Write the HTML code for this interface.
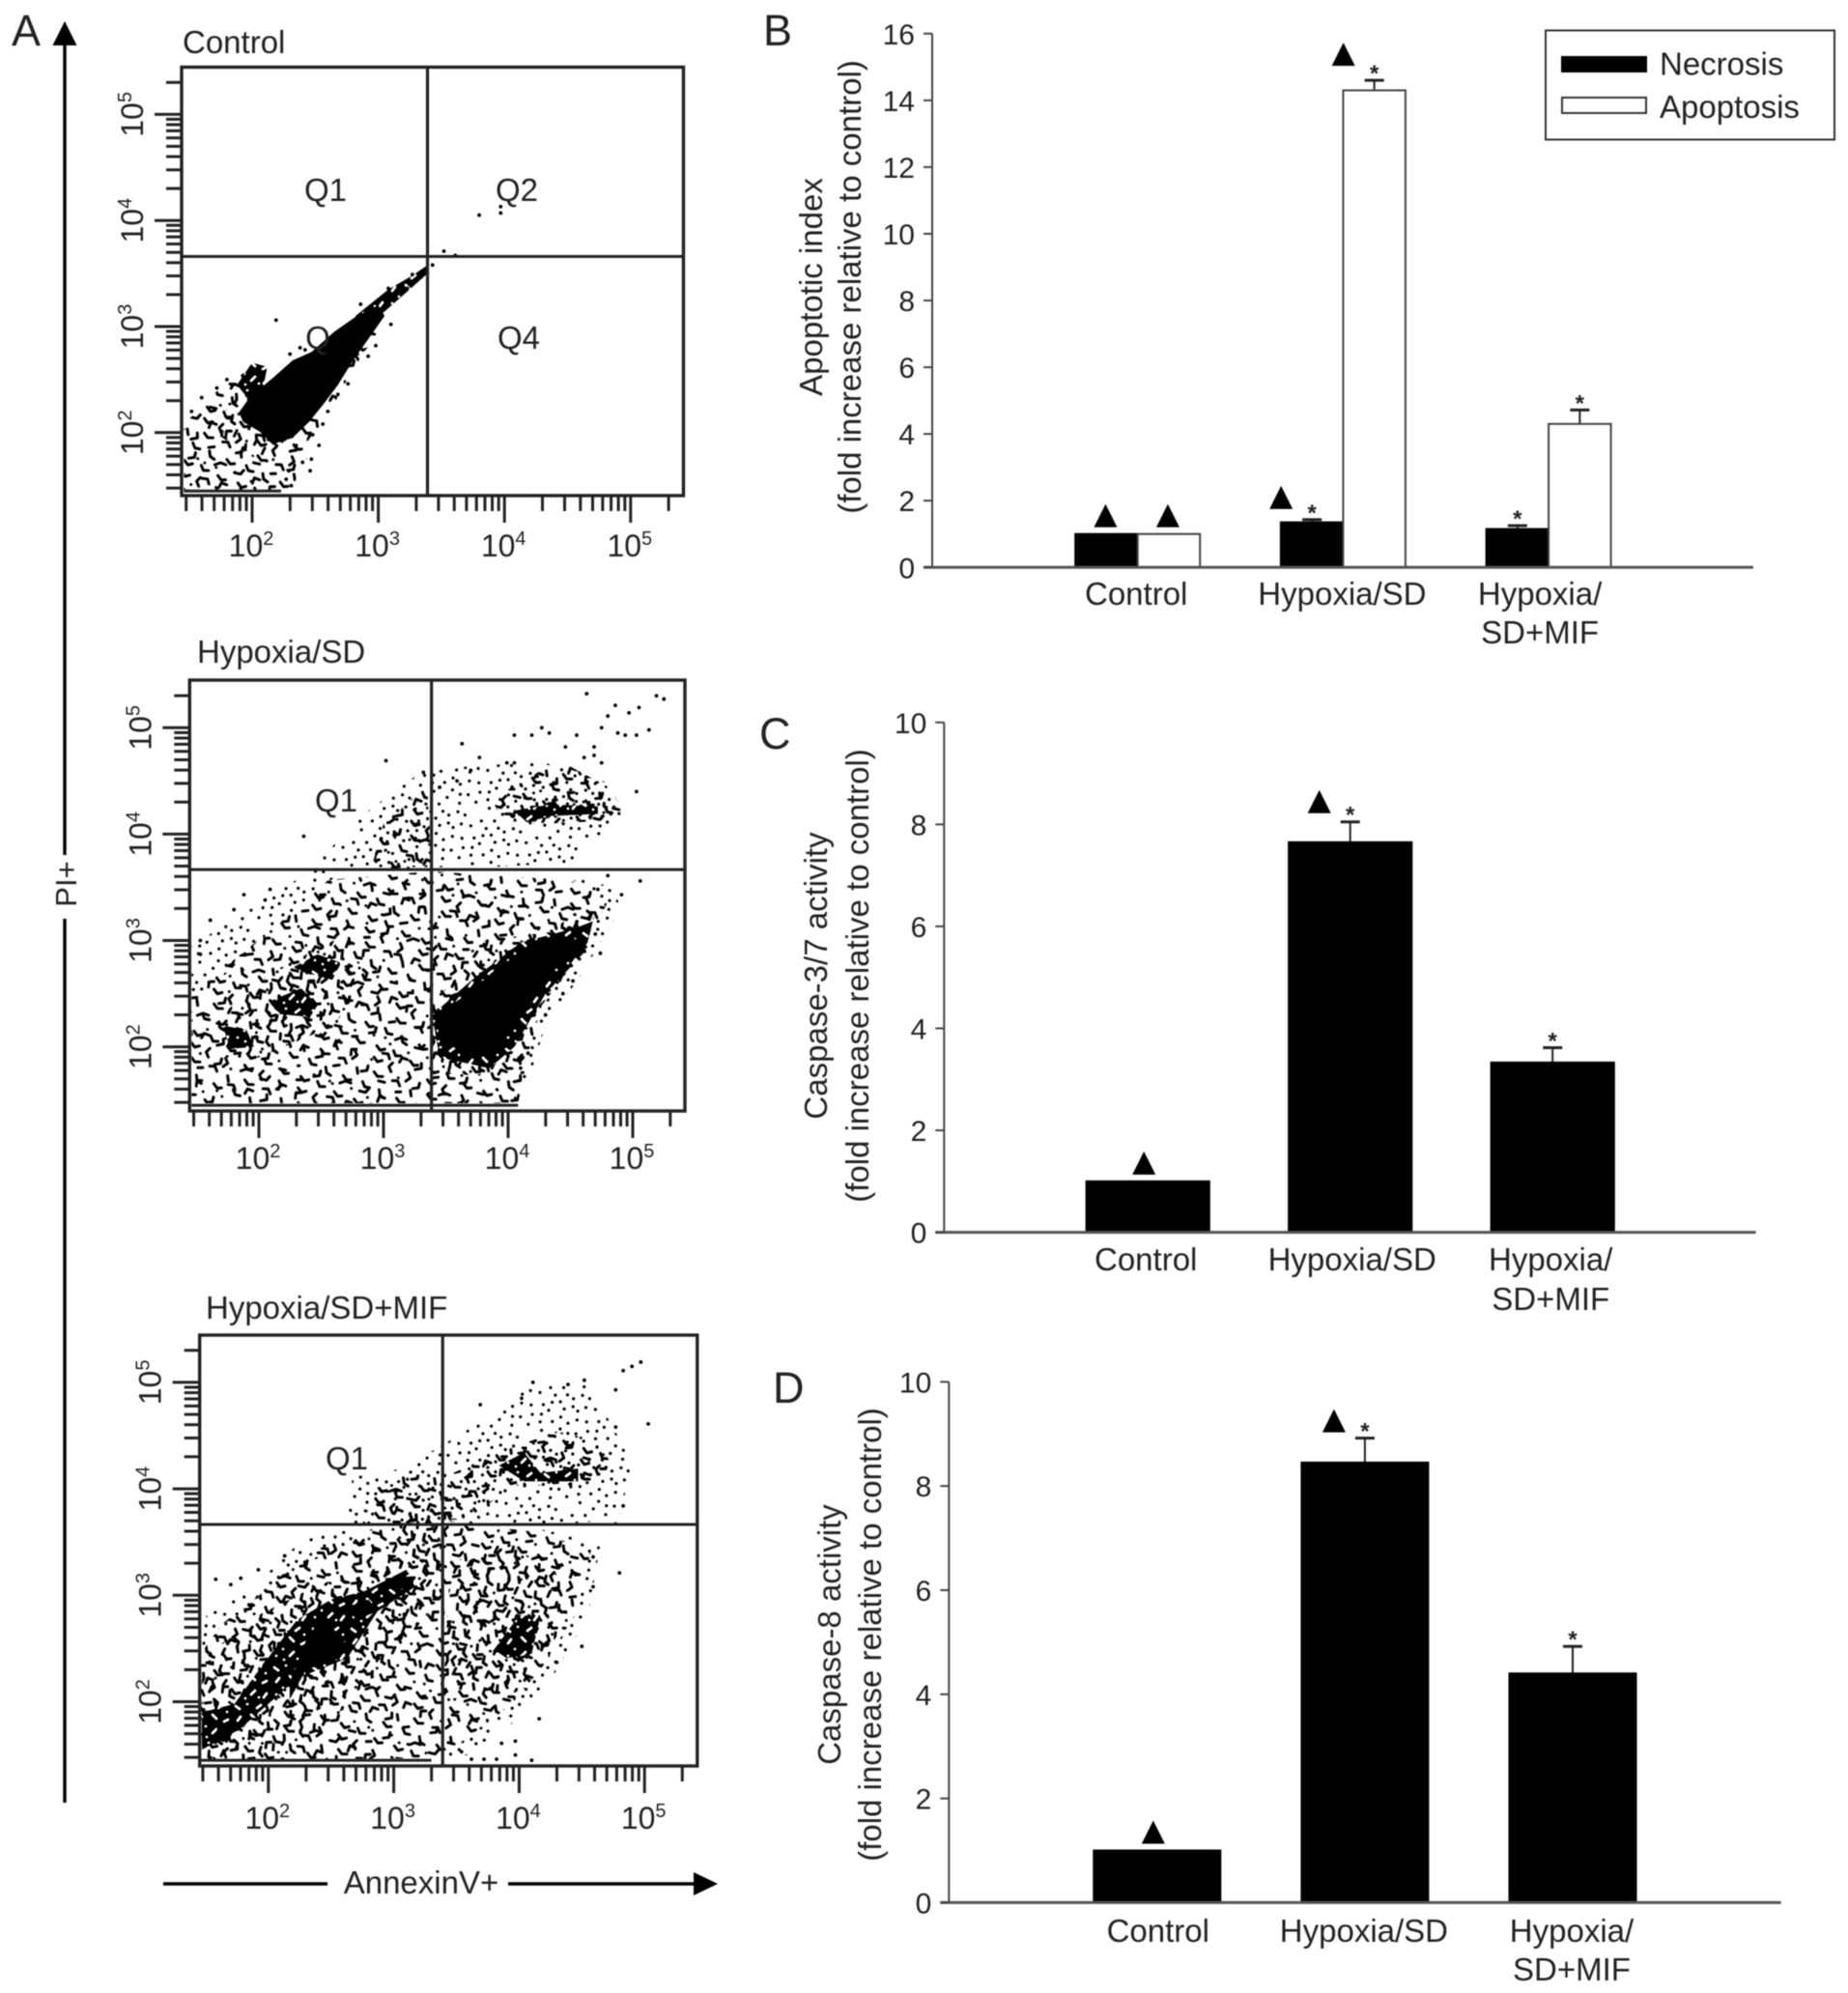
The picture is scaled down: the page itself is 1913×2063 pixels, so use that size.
<!DOCTYPE html>
<html lang="en">
<head>
<meta charset="utf-8">
<title>Flow cytometry and apoptosis bar charts</title>
<style>
html,body{margin:0;padding:0;background:#fff;}
svg{display:block;filter:blur(0.6px);}
text{font-family:"Liberation Sans",sans-serif;fill:#222;}
</style>
</head>
<body>
<svg id="figure" xmlns="http://www.w3.org/2000/svg" width="1913" height="2063" viewBox="0 0 1913 2063">
<defs>
<pattern id="stipLight" patternUnits="userSpaceOnUse" width="60" height="60" patternTransform="rotate(17)">
<path d="M5 7h0M12 13h0M18 3h0M24 9h0M31 11h0M39 5h0M47 6h0M56 15h0M11 21h0M19 18h0M25 24h0M33 19h0M39 22h0M46 16h0M51 30h0M4 36h0M3 26h0M10 30h0M17 40h0M24 33h0M33 37h0M41 31h0M44 45h0M9 52h0M5 44h0M24 54h0M27 45h0M38 56h0M36 47h0M54 50h0M55 39h0" stroke="#000" stroke-width="3.2" stroke-linecap="round" fill="none"/>
</pattern>
<pattern id="stipMedA" patternUnits="userSpaceOnUse" width="60" height="60" patternTransform="rotate(23)">
<path d="M2 4l5 3 4-3M20 2l4 4 5-2M40 5l5 3 4-2M4 16l5 3 4-3M24 14l-2 5 4 4M43 17l4 4-3 5M10 30l5 3 5-2M31 31l5-2 4 4M52 33l3 5M3 44l4 4 5-1M22 45l3 5 5 1M42 46l5 3 4-2M14 57h0M35 58h0M55 55h0" stroke="#000" stroke-width="3" stroke-linecap="round" stroke-linejoin="round" fill="none"/>
</pattern>
<pattern id="stipMedB" patternUnits="userSpaceOnUse" width="73" height="73" patternTransform="rotate(-38)">
<path d="M6 8l4 4-2 5M25 5l6 2 3 5M50 9l5 3 4-3M66 6h0M14 26l5-2 3 5M36 24l4 5 5-1M58 28l4 5M3 38h0M22 42l6 3 3-4M44 44l5-3 3 5M65 48l4 3M8 56l5 3 4-3M31 60l5 3M52 62l4-4 4 3M18 70h0" stroke="#000" stroke-width="3" stroke-linecap="round" stroke-linejoin="round" fill="none"/>
</pattern>
<pattern id="stipMid" patternUnits="userSpaceOnUse" width="47" height="47" patternTransform="rotate(64)">
<path d="M4 6l5 2 3 4M20 4l4 5M33 8l5-2 4 4M8 20l5 3M22 19l5 4 4-2M38 22l4 5M5 33l4 4 5-1M21 35l3 5M32 36l5 3 4-3M14 44h0M43 42h0" stroke="#000" stroke-width="3" stroke-linecap="round" stroke-linejoin="round" fill="none"/>
</pattern>
<pattern id="stipHeavy" patternUnits="userSpaceOnUse" width="40" height="40">
<rect width="40" height="40" fill="#000"/>
<path d="M4 6l4 3M16 4h0M26 8l4-3M35 12h0M9 17l-3 4M20 15l4 4M32 22l4-2M13 27h0M24 30l-4 4M36 33l-3 4M6 34h0M14 38h0M28 37h0" stroke="#fff" stroke-width="2.8" stroke-linecap="round" fill="none"/>
</pattern>
</defs>

<!-- Panel letters -->
<text x="12" y="47" font-size="45">A</text>
<text x="790" y="47" font-size="45">B</text>
<text x="786" y="775" font-size="45">C</text>
<text x="800" y="1452" font-size="45">D</text>

<!-- Shared flow axes -->
<g>
<line x1="67" y1="40" x2="67" y2="885" stroke="#000" stroke-width="3.4"/>
<line x1="67" y1="951" x2="67" y2="1866" stroke="#000" stroke-width="3.4"/>
<polygon points="67,22 54.5,47 79.5,47" fill="#000"/>
</g>
<text transform="translate(79,915) rotate(-90)" text-anchor="middle" font-size="31">PI+</text>
<g>
<line x1="169" y1="1950" x2="339" y2="1950" stroke="#000" stroke-width="3.4"/>
<line x1="526" y1="1950" x2="722" y2="1950" stroke="#000" stroke-width="3.4"/>
<polygon points="743,1950 718,1938 718,1962" fill="#000"/>
</g>
<text x="436" y="1960" text-anchor="middle" font-size="33">AnnexinV+</text>

<!-- Flow panel titles -->
<text x="189" y="55" font-size="33">Control</text>
<text x="204" y="686" font-size="33">Hypoxia/SD</text>
<text x="213" y="1365" font-size="33">Hypoxia/SD+MIF</text>

<g id="flow-layer"></g>

<text x="337" y="208" text-anchor="middle" font-size="33">Q1</text>
<text x="535" y="208" text-anchor="middle" font-size="33">Q2</text>
<text x="329" y="361" text-anchor="middle" font-size="33">Q</text>
<text x="537" y="361" text-anchor="middle" font-size="33">Q4</text>
<text x="348" y="840" text-anchor="middle" font-size="33">Q1</text>
<text x="359" y="1521" text-anchor="middle" font-size="33">Q1</text>

<!-- Bar charts -->
<g id="bar-layer"></g>

<text transform="translate(851,297) rotate(-90)" text-anchor="middle" font-size="33">Apoptotic index</text>
<text transform="translate(891,297) rotate(-90)" text-anchor="middle" font-size="33">(fold increase relative to control)</text>
<text transform="translate(856,1010) rotate(-90)" text-anchor="middle" font-size="33">Caspase-3/7 activity</text>
<text transform="translate(899,1010) rotate(-90)" text-anchor="middle" font-size="33">(fold increase relative to control)</text>
<text transform="translate(870,1692) rotate(-90)" text-anchor="middle" font-size="33">Caspase-8 activity</text>
<text transform="translate(912,1692) rotate(-90)" text-anchor="middle" font-size="33">(fold increase relative to control)</text>

<!-- Legend -->
<g>
<rect x="1600" y="31.5" width="299" height="113" fill="#fff" stroke="#333" stroke-width="2"/>
<rect x="1616" y="58" width="89" height="17" fill="#000"/>
<rect x="1617" y="101" width="87" height="16" fill="#fff" stroke="#333" stroke-width="2"/>
<text x="1718" y="77.5" font-size="33">Necrosis</text>
<text x="1718" y="122" font-size="33">Apoptosis</text>
</g>

<script>
/* ---------- Bar chart data ---------- */
const barYTicksB = [0, 2, 4, 6, 8, 10, 12, 14, 16];
const barYTicksCD = [0, 2, 4, 6, 8, 10];
const categories = [['Control'], ['Hypoxia/SD'], ['Hypoxia/', 'SD+MIF']];

const bNecrosis = [1, 1.35, 1.15];
const bNecrosisErrTop = [1, 1.43, 1.25];
const bNecrosisTriangle = [true, true, false];
const bNecrosisStar = [false, true, true];
const bApoptosis = [1, 14.3, 4.3];
const bApoptosisErrTop = [1, 14.6, 4.72];
const bApoptosisTriangle = [true, true, false];
const bApoptosisStar = [false, true, true];

const cValues = [1, 7.65, 3.33];
const cErrTop = [1, 8.05, 3.62];
const cTriangle = [true, true, false];
const cStar = [false, true, true];

const dValues = [1, 8.45, 4.4];
const dErrTop = [1, 8.92, 4.92];
const dTriangle = [true, true, false];
const dStar = [false, true, true];

/* ---------- Flow cytometry data (all values in log10 fluorescence) ---------- */
const decadeLabels = [2, 3, 4, 5];
const tickDecades = [1, 2, 3, 4, 5];
const tickMantissas = [1, 2, 3, 4, 5, 6, 7, 8, 9];

const controlGate = [3.39, 3.66];
const controlPileUp = [1.46, 2.23, 1.45];
const controlPoints = [[3.80,4.05],[3.97,4.13],[3.97,4.07],[3.52,3.71],[3.61,3.67],[2.19,3.06],[3.38,3.54],[3.43,3.58],[3.34,3.51],[3.27,3.49],[3.23,3.36],[3.08,3.36],[2.86,3.21],[2.38,2.80],[2.53,1.88],[2.47,1.75],[2.46,1.64],[2.29,1.64],[2.27,1.56],[1.60,2.33],[1.52,2.20],[1.80,2.50],[1.72,2.42],[2.40,1.72],[2.31,1.50],[2.76,2.46],[2.68,2.36],[2.60,2.20],[2.56,2.08],[2.48,1.98],[2.92,2.72],[2.98,2.82],[3.10,3.02],[2.42,2.78],[2.30,2.74]];
const controlLight = [];
const controlMedium = [[[1.46,2.08],[1.71,2.38],[1.93,2.56],[2.08,2.51],[2.01,2.10],[2.23,1.90],[2.49,1.88],[2.30,1.45],[1.46,1.45]],[[3.0,3.04],[3.05,3.0],[2.9,2.78],[2.78,2.56],[2.68,2.34],[2.56,2.1],[2.44,1.92],[2.32,1.85],[2.2,1.82],[2.2,1.92],[2.44,2.13],[2.62,2.47],[2.85,2.86]]];
const controlMid = [[[1.7,2.0],[1.9,2.45],[2.1,2.45],[2.0,2.05],[2.25,1.85],[2.1,1.7]]];
const controlHeavy = [[[1.88,2.45],[2.0,2.66],[2.12,2.62],[2.05,2.2]],[[2.82,3.10],[3.08,3.35],[3.27,3.48],[3.38,3.57],[3.40,3.51],[3.23,3.33],[3.01,3.10],[2.86,2.92]]];
const controlSolid = [[[1.895,2.19],[1.985,2.34],[2.16,2.51],[2.32,2.68],[2.47,2.76],[2.65,2.95],[2.83,3.1],[3.0,3.2],[3.05,3.1],[2.92,2.88],[2.8,2.68],[2.68,2.45],[2.56,2.26],[2.45,2.10],[2.32,1.95],[2.16,1.89],[2.06,2.01],[1.93,2.10]]];

const hypoxiaGate = [3.385, 3.666];
const hypoxiaPileUp = [1.46, 4.08, 1.45];
const hypoxiaPoints = [[4.63,5.32],[4.86,5.21],[5.19,5.30],[5.25,5.27],[5.05,5.19],[4.97,5.14],[4.80,5.11],[4.75,5.0],[4.27,5.0],[4.33,4.95],[4.05,4.93],[4.19,4.93],[4.55,4.93],[4.88,4.95],[4.94,4.93],[5.03,4.93],[5.13,4.98],[3.63,4.85],[4.46,4.82],[4.69,4.82],[4.69,4.74],[3.77,4.72],[4.61,4.72],[4.75,4.67],[3.02,4.69],[3.99,4.67],[4.05,4.67],[5.03,4.40],[2.36,3.98],[5.06,3.56],[4.91,3.43],[4.80,3.61],[4.72,3.48],[1.61,3.19],[1.53,3.0],[1.53,2.87],[1.88,3.43],[1.80,3.29],[2.09,3.48],[2.05,3.38],[3.32,4.58],[3.70,4.60],[3.59,4.50],[3.45,4.44],[4.62,2.94],[4.70,3.06],[4.74,2.88],[4.52,2.62],[4.44,2.50],[4.30,2.30],[4.16,1.94],[4.10,1.80]];
const hypoxiaLight = [[[2.44,3.69],[2.78,4.13],[3.04,4.36],[3.32,4.6],[3.73,4.64],[4.27,4.68],[4.81,4.48],[4.94,4.24],[4.87,4.09],[4.49,3.73],[3.86,3.69]],[[1.46,2.4],[1.46,2.95],[1.8,3.2],[2.1,3.42],[2.45,3.68],[2.7,3.68],[2.4,3.4],[2.1,3.1],[1.75,2.7]],[[4.49,3.6],[4.85,3.5],[4.9,3.3],[4.6,2.7],[4.3,2.2],[4.14,1.6],[4.05,1.6],[4.2,2.2],[4.45,2.75],[4.75,3.35]]];
const hypoxiaMedium = [[[1.46,1.47],[1.46,2.47],[1.77,2.79],[2.18,3.18],[2.56,3.57],[3.39,3.65],[3.86,3.61],[4.49,3.57],[4.81,3.38],[4.53,2.79],[4.27,2.39],[4.16,1.94],[4.08,1.47]],[[3.89,4.28],[4.02,4.44],[4.27,4.6],[4.49,4.64],[4.81,4.44],[4.92,4.24],[4.87,4.13],[4.18,4.09],[3.92,4.2]],[[2.9,3.67],[3.0,4.1],[3.35,4.45],[3.39,3.67]]];
const hypoxiaMid = [[[3.39,2.39],[3.81,3.0],[4.34,3.08],[4.62,3.34],[4.70,3.26],[4.49,2.83],[4.27,2.39],[4.05,2.0],[3.95,1.72],[3.42,1.75],[3.39,1.84]],[[1.7,2.3],[2.1,2.7],[2.6,3.0],[2.9,2.7],[2.6,2.2],[2.0,1.9],[1.7,1.9]],[[3.98,4.18],[4.3,4.34],[4.8,4.3],[4.8,4.14],[4.2,4.1]]];
const hypoxiaHeavy = [[[2.28,2.75],[2.47,2.87],[2.66,2.79],[2.59,2.63],[2.33,2.71]],[[2.09,2.43],[2.34,2.55],[2.47,2.39],[2.41,2.28],[2.15,2.31]],[[1.71,2.2],[1.90,2.16],[1.96,2.0],[1.77,1.98]],[[4.05,4.22],[4.34,4.28],[4.72,4.26],[4.72,4.19],[4.34,4.17],[4.15,4.11]],[[3.39,2.3],[3.7,2.62],[4.1,2.98],[4.55,3.12],[4.68,3.18],[4.62,2.9],[4.3,2.5],[4.05,2.0],[3.85,1.8],[3.45,1.9]]];
const hypoxiaSolid = [[[3.44,2.31],[3.70,2.52],[3.90,2.73],[4.13,2.91],[4.32,3.0],[4.52,3.03],[4.61,2.94],[4.42,2.79],[4.26,2.55],[4.13,2.34],[3.98,2.09],[3.85,1.94],[3.64,1.94],[3.44,2.09]]];

const mifGate = [3.39, 3.665];
const mifPileUp = [1.46, 3.3, 1.45];
const mifPoints = [[4.97,5.19],[4.90,5.15],[4.83,5.11],[4.52,5.02],[4.77,4.93],[4.39,4.98],[4.11,5.0],[3.69,4.79],[4.02,4.85],[5.03,4.61],[4.77,4.58],[4.80,3.21],[4.83,3.84],[4.77,3.67],[4.50,2.52],[4.30,2.37],[4.16,1.84],[3.97,1.63],[3.86,1.61],[3.54,1.53],[3.97,1.5],[4.10,1.45],[1.58,3.15],[1.70,3.10],[1.78,3.16],[1.92,3.24],[2.13,3.37],[4.59,3.08],[4.59,3.36],[3.62,1.46],[3.72,1.46],[3.82,1.46]];
const mifLight = [[[2.63,3.65],[2.67,4.11],[3.07,4.19],[3.57,4.54],[4.10,4.97],[4.54,5.01],[4.90,4.26],[4.80,3.71],[4.14,3.65]],[[1.46,2.4],[1.5,2.8],[1.9,3.1],[2.25,3.5],[2.6,3.65],[2.7,3.5],[2.3,3.3],[1.95,2.95],[1.6,2.65]],[[4.17,3.62],[4.65,3.5],[4.55,2.8],[4.25,2.2],[3.95,1.8],[3.6,1.5],[3.37,1.47],[3.9,1.95],[4.17,2.3],[4.44,2.81],[4.55,3.38]]];
const mifMedium = [[[1.46,1.45],[1.46,2.45],[1.63,2.73],[1.97,3.04],[2.30,3.40],[2.70,3.56],[3.17,3.79],[3.57,3.67],[4.17,3.59],[4.57,3.40],[4.44,2.81],[4.17,2.30],[3.90,1.94],[3.37,1.47]],[[3.40,4.11],[3.84,4.34],[4.30,4.54],[4.60,4.46],[4.77,4.19],[4.50,4.03],[3.97,4.03],[3.57,3.71],[3.40,3.71]],[[2.75,3.67],[2.85,4.0],[3.1,4.15],[3.38,4.1],[3.38,3.67]]];
const mifMid = [[[1.47,1.47],[1.47,2.4],[1.9,2.8],[2.4,3.1],[3.0,3.3],[3.3,3.6],[3.4,3.0],[2.9,2.3],[2.4,1.7],[2.0,1.47]],[[3.4,2.2],[3.45,3.3],[3.9,3.5],[4.3,3.2],[4.35,2.7],[4.0,2.1],[3.7,2.0]],[[2.95,3.3],[3.1,3.75],[3.35,3.75],[3.4,3.2]]];
const mifHeavy = [[[1.47,1.55],[1.77,1.74],[2.23,2.22],[2.63,2.41],[2.87,2.85],[3.17,3.08],[3.10,3.24],[2.77,3.04],[2.50,2.96],[2.23,2.77],[1.97,2.37],[1.73,1.98],[1.47,1.9]],[[3.80,2.49],[4.0,2.81],[4.17,2.81],[4.10,2.45],[3.90,2.41]],[[3.84,4.22],[4.04,4.34],[4.17,4.15],[4.47,4.19],[4.47,4.07],[4.04,4.07]]];
const mifSolid = [[[2.17,2.18],[2.30,2.57],[2.43,2.81],[2.63,2.53],[2.57,2.41],[2.30,2.30],[2.17,2.02]],[[2.63,2.89],[2.8,2.96],[2.87,2.85],[2.70,2.77]],[[2.93,3.16],[3.17,3.18],[3.14,3.06],[2.97,3.06]],[[1.6,1.78],[1.73,1.74],[1.67,1.61],[1.58,1.69]]];

/* ---------- Helpers ---------- */
const NS = 'http://www.w3.org/2000/svg';
function mk(parent, tag, attrs, name) {
  const el = document.createElementNS(NS, tag);
  for (const k in attrs) el.setAttribute(k, attrs[k]);
  
  
  parent.appendChild(el);
  return el;
}
function powerLabel(parent, attrs, exp, name) {
  const t = mk(parent, 'text', attrs, name);
  const base = document.createElementNS(NS, 'tspan');
  base.textContent = '10';
  t.appendChild(base);
  const sup = document.createElementNS(NS, 'tspan');
  sup.setAttribute('dy', '-12');
  sup.setAttribute('font-size', '20');
  sup.textContent = String(exp);
  t.appendChild(sup);
  return t;
}

/* ---------- Flow plots ---------- */
function drawFlow(cfg) {
  const g = mk(document.getElementById('flow-layer'), 'g', {}, cfg.name);
  const X = v => cfg.xAt2 + (v - 2) * cfg.xDec;
  const Y = v => cfg.yAt2 - (v - 2) * cfg.yDec;
  const poly = (list, fill, label) => list.forEach(p => {
    mk(g, 'polygon', {points: p.map(q => X(q[0]) + ',' + Y(q[1])).join(' '), fill: fill}, label);
  });
  poly(cfg.light, 'url(#stipLight)', 'sparse-event-region');
  poly(cfg.medium, 'url(#stipMedA)', 'medium-event-region');
  poly(cfg.medium, 'url(#stipMedB)', 'medium-event-region-overlay');
  poly(cfg.mid, 'url(#stipMid)', 'denser-event-region');
  poly(cfg.heavy, 'url(#stipHeavy)', 'dense-event-region');
  poly(cfg.solid, '#000', 'saturated-event-cluster');
  cfg.points.forEach(p => {
    mk(g, 'circle', {cx: X(p[0]), cy: Y(p[1]), r: 1.9, fill: '#000'}, 'flow-event');
  });
  mk(g, 'line', {x1: X(cfg.pile[0]), x2: X(cfg.pile[1]), y1: Y(cfg.pile[2]), y2: Y(cfg.pile[2]), stroke: '#222', 'stroke-width': 3}, 'axis-pile-up-events');

  const frame = cfg.frame;
  mk(g, 'rect', {x: frame[0], y: frame[1], width: frame[2] - frame[0], height: frame[3] - frame[1], fill: 'none', stroke: '#222', 'stroke-width': 3.4}, 'plot-frame');
  mk(g, 'line', {x1: X(cfg.gate[0]), x2: X(cfg.gate[0]), y1: frame[1], y2: frame[3], stroke: '#222', 'stroke-width': 3.2}, 'vertical-quadrant-gate');
  mk(g, 'line', {x1: frame[0], x2: frame[2], y1: Y(cfg.gate[1]), y2: Y(cfg.gate[1]), stroke: '#222', 'stroke-width': 3}, 'horizontal-quadrant-gate');

  tickDecades.forEach(d => {
    tickMantissas.forEach(m => {
      const v = d + Math.log10(m);
      if (v < 1.47 || v > 5.31) return;
      const major = m === 1;
      const len = major ? 28 : 16;
      mk(g, 'line', {x1: X(v), x2: X(v), y1: frame[3], y2: frame[3] + len, stroke: '#222', 'stroke-width': 3}, 'x-axis-tick');
      mk(g, 'line', {y1: Y(v), y2: Y(v), x1: frame[0], x2: frame[0] - len, stroke: '#222', 'stroke-width': 3}, 'y-axis-tick');
    });
  });
  decadeLabels.forEach(d => {
    powerLabel(g, {x: X(d) - 1, y: frame[3] + cfg.labelDy, 'text-anchor': 'middle', 'font-size': 32}, d, 'x-tick-label');
    powerLabel(g, {transform: 'translate(' + (frame[0] - 40) + ',' + Y(d) + ') rotate(-90)', 'text-anchor': 'middle', 'font-size': 32}, d, 'y-tick-label');
  });
}

drawFlow({name: 'flow-plot-control', frame: [188, 69.5, 707.5, 513], xAt2: 261, xDec: 130.6, yAt2: 447.8, yDec: 109.8, labelDy: 63, gate: controlGate, pile: controlPileUp, points: controlPoints, light: controlLight, medium: controlMedium, mid: controlMid, heavy: controlHeavy, solid: controlSolid});
drawFlow({name: 'flow-plot-hypoxia', frame: [196.3, 704, 709, 1150], xAt2: 268, xDec: 129, yAt2: 1083.6, yDec: 110.1, labelDy: 60, gate: hypoxiaGate, pile: hypoxiaPileUp, points: hypoxiaPoints, light: hypoxiaLight, medium: hypoxiaMedium, mid: hypoxiaMid, heavy: hypoxiaHeavy, solid: hypoxiaSolid});
drawFlow({name: 'flow-plot-hypoxia-mif', frame: [206.7, 1382, 721.8, 1828], xAt2: 277.8, xDec: 129.8, yAt2: 1761.5, yDec: 110.2, labelDy: 65, gate: mifGate, pile: mifPileUp, points: mifPoints, light: mifLight, medium: mifMedium, mid: mifMid, heavy: mifHeavy, solid: mifSolid});

/* ---------- Bar charts ---------- */
function drawBars(cfg) {
  const g = mk(document.getElementById('bar-layer'), 'g', {}, cfg.name);
  const Y = v => cfg.y0 - v * cfg.unit;
  const X = i => cfg.firstCenter + i * cfg.step;

  cfg.series.forEach(s => {
    s.values.forEach((v, i) => {
      const left = X(i) + s.offset * cfg.barW - (cfg.series.length === 1 ? cfg.barW / 2 : 0);
      const cx = left + cfg.barW / 2;
      const top = Y(v);
      const errTop = Y(s.errTop[i]);
      if (s.errTop[i] > v) {
        mk(g, 'line', {x1: cx, x2: cx, y1: top, y2: errTop, stroke: '#222', 'stroke-width': 2}, 'error-bar');
        mk(g, 'line', {x1: cx - 10, x2: cx + 10, y1: errTop, y2: errTop, stroke: '#222', 'stroke-width': 3}, 'error-bar-cap');
      }
      mk(g, 'rect', {x: left, y: top, width: cfg.barW, height: cfg.y0 - top, fill: s.fill, stroke: s.fill === '#fff' ? '#444' : '#000', 'stroke-width': 2}, 'bar-' + s.key + '-' + i);
      if (s.triangle[i]) {
        const starred = s.star[i];
        const tx = cx + (starred ? -32 : cfg.triDx);
        const ty = errTop - (starred ? s.triGap : 7);
        mk(g, 'polygon', {points: tx + ',' + (ty - 24) + ' ' + (tx - 12) + ',' + ty + ' ' + (tx + 12) + ',' + ty, fill: '#000'}, 'significance-triangle');
      }
      if (s.star[i]) {
        const st = mk(g, 'text', {x: cx, y: errTop + 1, 'text-anchor': 'middle', 'font-size': 24, 'font-weight': 'bold'}, 'significance-star');
        st.textContent = '*';
      }
    });
  });

  mk(g, 'line', {x1: cfg.axisX, x2: cfg.axisX, y1: Y(cfg.ticks[cfg.ticks.length - 1]), y2: cfg.y0, stroke: '#444', 'stroke-width': 2}, 'y-axis-line');
  mk(g, 'line', {x1: cfg.axisX - 9, x2: cfg.axisRight, y1: cfg.y0, y2: cfg.y0, stroke: '#555', 'stroke-width': 3}, 'x-axis-line');
  cfg.ticks.forEach(t => {
    mk(g, 'line', {x1: cfg.axisX - 9, x2: cfg.axisX, y1: Y(t), y2: Y(t), stroke: '#444', 'stroke-width': 2}, 'y-axis-tick');
    const lab = mk(g, 'text', {x: cfg.axisX - 18, y: Y(t) + 11, 'text-anchor': 'end', 'font-size': 30}, 'y-tick-label');
    lab.textContent = String(t);
  });
  categories.forEach((c, i) => {
    c.forEach((line, li) => {
      const lab = mk(g, 'text', {x: X(i) + cfg.labelDx[i], y: cfg.labelY + li * cfg.lineGap, 'text-anchor': 'middle', 'font-size': 33}, 'category-label');
      lab.textContent = line;
    });
  });
}

drawBars({name: 'chart-b-apoptotic-index', axisX: 965, axisRight: 1815, y0: 587.3, unit: 34.53, firstCenter: 1177.7, step: 212.7, barW: 64.5, triDx: -1, labelDx: [-1.5, -1, -9], labelY: 626, lineGap: 40, ticks: barYTicksB,
  series: [
    {key: 'necrosis', fill: '#000', offset: -1, triGap: 11, values: bNecrosis, errTop: bNecrosisErrTop, triangle: bNecrosisTriangle, star: bNecrosisStar},
    {key: 'apoptosis', fill: '#fff', offset: 0, triGap: 15, values: bApoptosis, errTop: bApoptosisErrTop, triangle: bApoptosisTriangle, star: bApoptosisStar}
  ]});
drawBars({name: 'chart-c-caspase-3-7', axisX: 977.3, axisRight: 1817.6, y0: 1275.6, unit: 52.78, firstCenter: 1188.2, step: 209.5, barW: 127.2, triDx: -4, labelDx: [-2, 2, -2], labelY: 1315, lineGap: 41, ticks: barYTicksCD,
  series: [{key: 'caspase-3-7', fill: '#000', offset: 0, triGap: 9, values: cValues, errTop: cErrTop, triangle: cTriangle, star: cStar}]});
drawBars({name: 'chart-d-caspase-8', axisX: 982.3, axisRight: 1843.6, y0: 1969.4, unit: 53.9, firstCenter: 1197.8, step: 215.1, barW: 131, triDx: -4, labelDx: [1, -1, -1], labelY: 2010, lineGap: 40, ticks: barYTicksCD,
  series: [{key: 'caspase-8', fill: '#000', offset: 0, triGap: 6, values: dValues, errTop: dErrTop, triangle: dTriangle, star: dStar}]});
</script>
</svg>
</body>
</html>
